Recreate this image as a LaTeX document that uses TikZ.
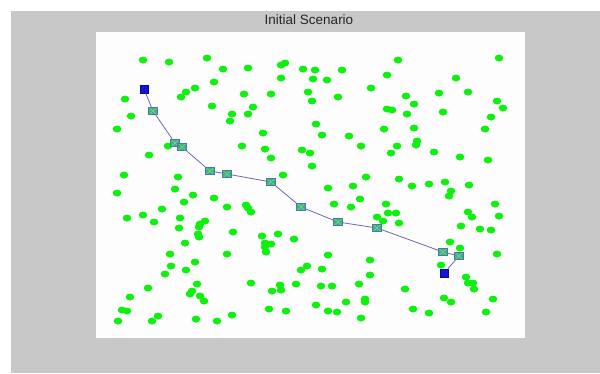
\documentclass[tikz,border=0pt]{standalone}
\usepackage{fontspec}
\setmainfont{Liberation Sans}
\definecolor{framegray}{HTML}{C8C8C8}
\definecolor{plotwhite}{HTML}{FDFDFD}
\definecolor{sensor}{HTML}{0EF00E}
\definecolor{hopfill}{HTML}{3DB873}
\definecolor{hopedge}{HTML}{4F74B0}
\definecolor{hopmark}{HTML}{8FD8B0}
\definecolor{routeline}{HTML}{6A6AA8}
\definecolor{endfill}{HTML}{1414D8}
\definecolor{endedge}{HTML}{0A0A90}
\tikzset{
  hop/.style={draw=hopedge, fill=hopfill, line width=0.8pt, minimum width=8.5pt, minimum height=7.5pt, inner sep=0pt,
    path picture={\draw[hopmark, line width=0.4pt]
      (path picture bounding box.south west) -- (path picture bounding box.north east)
      (path picture bounding box.north west) -- (path picture bounding box.south east);}},
  endpt/.style={draw=endedge, fill=endfill, line width=0.8pt, minimum width=8pt, minimum height=8pt, inner sep=0pt},
  route/.style={draw=routeline, line width=0.8pt},
  titletext/.style={font=\fontsize{13.5}{15}\selectfont, text=black!85}
}
\begin{document}
\begin{tikzpicture}[x=1pt,y=-1pt]
  \useasboundingbox (0,0) rectangle (600,373);
  \fill[white] (0,0) rectangle (600,373);
  \fill[framegray] (11,11) rectangle (600,373);
  \fill[plotwhite] (96,32) rectangle (525,338);
  \node[titletext] (title) at (309,20) {Initial Scenario};

  % scattered sensor nodes
  \foreach \px/\py in {
    143/60,169/62,207/58,223/69,248/68,281/65,285/63,303/69,214/82,195/88,
    186/92,181/97,244/94,271/94,281/78,125/99,131/116,212/106,253/107,232/114,
    248/114,230/121,117/129,315/70,342/70,313/79,327/80,398/60,499/58,387/75,
    456/78,371/88,308/92,312/101,338/97,406/96,439/93,468/92,497/101,503/108,
    387/109,392/110,414/104,407/114,443/112,491/117,316/124,384/129,414/128,485/129,
    263/133,242/146,265/149,302/150,310/153,168/146,149/155,271/158,124/175,178/177,
    283/175,117/193,175/189,193/195,214/198,184/202,162/209,227/207,246/205,248/208,
    251/212,127/218,143/215,154/222,180/218,179/228,205/221,200/224,199/227,233/232,
    198/234,199/237,262/236,278/234,294/239,322/135,349/136,361/146,397/146,391/153,
    417/141,416/145,434/152,460/157,488/160,312/166,366/177,399/179,328/188,353/186,
    412/186,429/184,445/182,469/185,451/191,449/196,360/199,334/204,351/207,386/204,
    388/213,396/213,377/217,383/221,399/223,468/212,472/217,495/204,499/216,461/226,
    480/229,491/230,185/243,265/243,271/244,265/247,266/252,170/254,227/254,171/266,
    195/262,186/270,165/274,307/266,301/270,148/288,197/284,192/291,190/294,200/296,
    204/301,251/283,280/285,272/291,281/290,296/284,130/297,122/310,127/311,118/321,
    152/321,158/316,196/319,217/321,232/315,269/309,286/311,450/242,460/248,497/254,
    328/255,370/260,322/269,370/275,441/265,466/277,468/283,473/283,474/289,321/286,
    332/286,359/284,405/289,444/298,451/302,493/299,365/299,365/302,346/302,316/305,
    328/311,337/312,361/318,413/309,429/313,486/312}
    \fill[sensor] (\px,\py) ellipse [x radius=4.3pt, y radius=3.5pt];

  % routing path from source to sink
  \node[endpt] (p1) at (144,89) {};
  \node[hop] (p2) at (153,111) {};
  \node[hop] (p3) at (175,143) {};
  \node[hop] (p4) at (182,147) {};
  \node[hop] (p5) at (210,171) {};
  \node[hop] (p6) at (227,174) {};
  \node[hop] (p7) at (271,182) {};
  \node[hop] (p8) at (301,207) {};
  \node[hop] (p9) at (338,222) {};
  \node[hop] (p10) at (377,228) {};
  \node[hop] (p11) at (443,252) {};
  \node[hop] (p12) at (459,256) {};
  \node[endpt] (p13) at (444,273) {};
  \draw[route] (p1) -- (p2) -- (p3) -- (p4) -- (p5) -- (p6) -- (p7) -- (p8)
    -- (p9) -- (p10) -- (p11) -- (p12) -- (p13);
\end{tikzpicture}
\end{document}
